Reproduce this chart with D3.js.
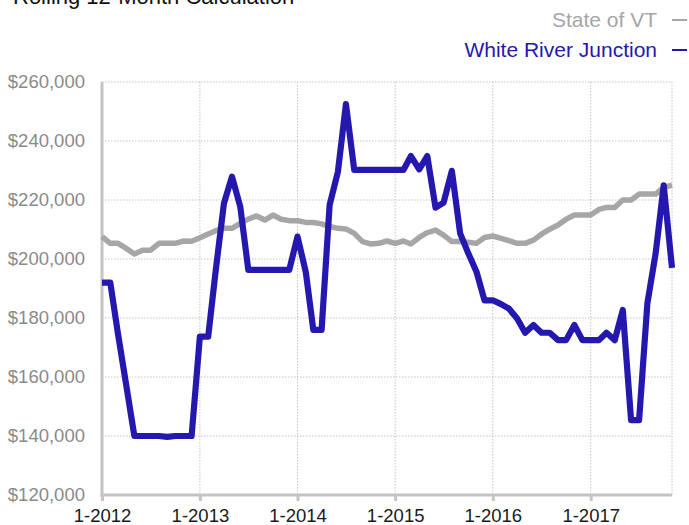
<!DOCTYPE html>
<html>
<head>
<meta charset="utf-8">
<script src="https://cdn.jsdelivr.net/npm/d3@7"></script>
<style>
  html, body { margin: 0; padding: 0; background: #fff; }
  svg { display: block; font-family: "Liberation Sans", Arial, Helvetica, sans-serif; }
</style>
</head>
<body>
<svg id="chart" width="689" height="525"></svg>
<script>
// ---- data ----
const title = "Rolling 12-Month Calculation";
const seriesNames = ["State of VT", "White River Junction"];
const startMonth = "2012-01"; // first point, monthly through 2017-11
const stateVT = [
  207600, 205300, 205300, 203600, 201700, 203000, 203000, 205300, 205300, 205300, 206100, 206000,
  207200, 208500, 209600, 210400, 210400, 212100, 213500, 214600, 213200, 214900, 213500, 213000,
  213000, 212400, 212400, 211900, 211000, 210400, 210200, 208700, 205900, 205100, 205300, 206100,
  205300, 206100, 205100, 207300, 208900, 209800, 208100, 205900, 205900, 205700, 205300, 207300,
  207800, 207000, 206200, 205300, 205300, 206400, 208400, 210100, 211500, 213500, 214900, 214900,
  214900, 216800, 217500, 217500, 220000, 220000, 222000, 222000, 222000, 224300, 225000
];
const whiteRiver = [
  192000, 192000, 174500, 157000, 140000, 140000, 140000, 140000, 139700, 140000, 140000, 140000,
  173700, 173700, 196000, 218900, 227900, 217700, 196300, 196300, 196300, 196300, 196300, 196300,
  207600, 195500, 176000, 176000, 218300, 229600, 252500, 230200, 230200, 230200, 230200, 230200,
  230200, 230200, 234900, 230400, 234900, 217400, 219100, 229900, 208700, 202000, 195700, 186000,
  186000, 184700, 183200, 179800, 175000, 177600, 175000, 175000, 172500, 172500, 177600, 172500,
  172500, 172500, 175000, 172500, 182700, 145400, 145400, 185000, 202000, 225000, 197000
];
const yTicks = [120000, 140000, 160000, 180000, 200000, 220000, 240000, 260000];
const xTickLabels = ["1-2012", "1-2013", "1-2014", "1-2015", "1-2016", "1-2017"];

// ---- setup ----
const svg = d3.select("#chart");
const colors = ["#a6a6a6", "#2418ae"];
const parse = d3.timeParse("%Y-%m");
const t0 = parse(startMonth);
const dates = stateVT.map((_, i) => d3.timeMonth.offset(t0, i));
const xTickDates = xTickLabels.map(s => { const [m, yr] = s.split("-"); return new Date(+yr, +m - 1, 1); });

const mLeft = 102, mRight = 672, mTop = 82, mBottom = 495;
const x = d3.scaleTime().domain([dates[0], dates[dates.length - 1]]).range([mLeft, mRight]);
const y = d3.scaleLinear().domain([120000, 260000]).range([mBottom, mTop]);

// title (partly cut off at top, as in the source)
svg.append("text").attr("x", 13).attr("y", 4).attr("font-size", 22).attr("fill", "#111").text(title);

// legend
const legendRows = [{ name: seriesNames[0], c: colors[0], yb: 27 }, { name: seriesNames[1], c: colors[1], yb: 57 }];
legendRows.forEach(r => {
  svg.append("text").attr("x", 657).attr("y", r.yb).attr("text-anchor", "end")
    .attr("font-size", 21).attr("fill", r.c).text(r.name);
  svg.append("line").attr("x1", 672).attr("x2", 687).attr("y1", r.yb - 7).attr("y2", r.yb - 7)
    .attr("stroke", r.c).attr("stroke-width", 2);
});

// grid
const grid = svg.append("g");
grid.selectAll("line.h").data(yTicks.filter(v => v > 120000)).join("line")
  .attr("x1", mLeft).attr("x2", mRight).attr("y1", d => y(d)).attr("y2", d => y(d))
  .attr("stroke", "#c4c4c4").attr("stroke-width", 1).attr("stroke-dasharray", "1.5,1.5");
grid.selectAll("line.v").data(xTickDates.slice(1).concat([dates[dates.length - 1]])).join("line")
  .attr("x1", d => x(d)).attr("x2", d => x(d)).attr("y1", mTop).attr("y2", mBottom)
  .attr("stroke", "#c4c4c4").attr("stroke-width", 1).attr("stroke-dasharray", "1.5,1.5");

// y axis
const yAxis = svg.append("g").attr("transform", `translate(${mLeft},0)`)
  .call(d3.axisLeft(y).tickValues(yTicks).tickSize(0).tickPadding(17)
    .tickFormat(d => "$" + d3.format(",")(d)));
yAxis.select(".domain").remove();
yAxis.selectAll("text").attr("font-size", 18.5).attr("fill", "#8a8a8a")
  .attr("font-family", "Liberation Sans, Arial, sans-serif");

// x axis
const xAxis = svg.append("g").attr("transform", `translate(0,${mBottom})`)
  .call(d3.axisBottom(x).tickValues(xTickDates).tickSize(6).tickPadding(8)
    .tickFormat((d, i) => xTickLabels[i]));
xAxis.select(".domain").remove();
xAxis.selectAll("line").attr("stroke", "#c4c4c4").attr("stroke-width", 3);
xAxis.selectAll("text").attr("font-size", 18.5).attr("fill", "#1a1a1a")
  .attr("font-family", "Liberation Sans, Arial, sans-serif");

// axis lines
svg.append("line").attr("x1", mLeft).attr("x2", mLeft).attr("y1", mTop).attr("y2", mBottom + 1.5)
  .attr("stroke", "#c4c4c4").attr("stroke-width", 3);
svg.append("line").attr("x1", mLeft - 1.5).attr("x2", mRight).attr("y1", mBottom).attr("y2", mBottom)
  .attr("stroke", "#c4c4c4").attr("stroke-width", 3);

// lines
const line = d3.line().x((d, i) => x(dates[i])).y(d => y(d));
[stateVT, whiteRiver].forEach((s, k) => {
  svg.append("path").datum(s).attr("d", line).attr("fill", "none")
    .attr("stroke", colors[k]).attr("stroke-width", k === 0 ? 5.5 : 6.2)
    .attr("stroke-linejoin", "round");
});
</script>
</body>
</html>
